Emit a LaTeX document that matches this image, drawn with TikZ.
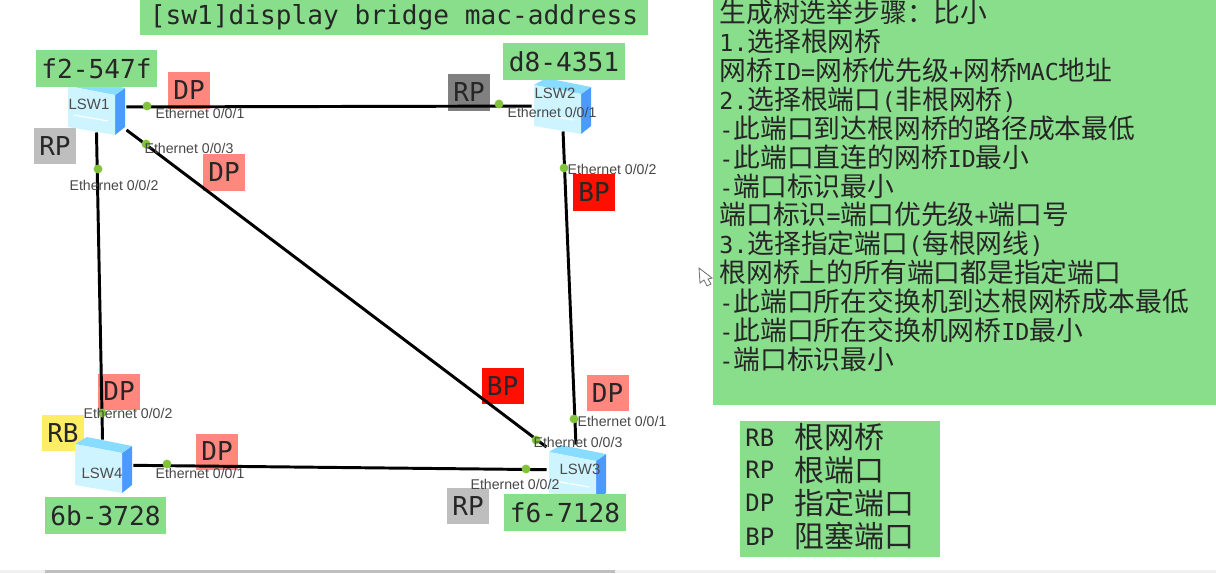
\documentclass[tikz,border=0pt]{standalone}
\usepackage{fontspec}
\setmainfont{Liberation Sans}
\setmonofont{DejaVu Sans Mono}
\newfontfamily\cjk{Noto Sans CJK SC}
\newcommand{\zh}[1]{{\cjk\fontsize{19.05}{20.55}\selectfont #1}}
\usetikzlibrary{positioning}
\definecolor{panelgreen}{RGB}{137,222,139}
\definecolor{dpred}{RGB}{255,135,125}
\definecolor{bpred}{RGB}{255,15,0}
\definecolor{rpgray}{RGB}{190,190,190}
\definecolor{rpdark}{RGB}{128,128,128}
\definecolor{rbyellow}{RGB}{255,238,100}
\definecolor{dotgreen}{RGB}{130,195,60}
\definecolor{swside}{RGB}{75,155,255}
\definecolor{swtop}{RGB}{135,220,255}
\definecolor{swfront}{RGB}{205,244,255}
\begin{document}
\begin{tikzpicture}
[x=0.025cm, y=-0.025cm, line width=2.1pt,
tag/.style={rectangle, inner sep=0pt, minimum width=1.05cm, minimum height=0.9cm, text=black!85, font=\ttfamily\fontsize{18.5}{20}\selectfont},
mac/.style={rectangle, fill=panelgreen, inner sep=0pt, minimum width=3.03cm, minimum height=0.925cm, text=black!85, font=\ttfamily\fontsize{18.6}{20}\selectfont},
switch/.style={rectangle, inner sep=0pt, minimum width=1.45cm, minimum height=1.2cm},
swname/.style={inner sep=0pt, text=black!70, font=\fontsize{10.6}{12}\selectfont},
port/.style={circle, fill=dotgreen, inner sep=0pt, minimum size=0.22cm},
eth/.style={inner sep=0pt, text=black!72, font=\fontsize{10.05}{12}\selectfont},
legendkey/.style={inner sep=0pt, anchor=west, text=black!85, font=\ttfamily\fontsize{17}{20}\selectfont},
legendval/.style={inner sep=0pt, anchor=west, text=black!85, font=\cjk\fontsize{21.3}{24}\selectfont},
swicon/.pic={
  \fill[swside] (19,-12) -- (29,-19) -- (29,20) -- (19,28) -- cycle;
  \fill[swtop] (-28,-21) -- (-16,-28) -- (29,-19) -- (19,-12) -- cycle;
  \fill[swfront] (-28,-21) -- (19,-12) -- (19,28) -- (-28,20) -- cycle;
  \draw[white, line width=0.8pt] (-22,8) -- (12,14);
}]

\useasboundingbox (0,0) rectangle (1216,573);

\fill[panelgreen] (713,0) rectangle (1216,405);
\fill[panelgreen] (740,421) rectangle (940,557);
\fill[black!6] (0,570) rectangle (1216,573);
\fill[black!25] (45,570) rectangle (615,573);

\node[tag, fill=dpred] (t1) at (189,90.5) {DP};
\node[tag, fill=rpgray] (t2) at (55,146) {RP};
\node[tag, fill=dpred] (t3) at (224,172.5) {DP};
\node[tag, fill=rpdark] (t4) at (469,92.5) {RP};
\node[tag, fill=bpred] (t5) at (594,192.5) {BP};
\node[tag, fill=dpred] (t6) at (119,391.5) {DP};
\node[tag, fill=rbyellow] (t7) at (63,433) {RB};
\node[tag, fill=dpred] (t8) at (217,451.5) {DP};
\node[tag, fill=bpred] (t9) at (502.5,386) {BP};
\node[tag, fill=dpred] (t10) at (607.5,393) {DP};
\node[tag, fill=rpgray] (t11) at (468,506) {RP};

\node[switch] (lsw1) at (96,107) {};
\node[switch] (lsw2) at (562,106) {};
\node[switch] (lsw3) at (577,470) {};
\node[switch] (lsw4) at (103,465) {};

\draw (lsw1) -- (lsw2);
\draw (lsw1) -- (lsw4);
\draw (lsw1) -- (lsw3);
\draw (lsw2) -- (lsw3);
\draw (lsw4) -- (lsw3);

\pic at (96,107) {swicon};
\pic at (562,106) {swicon};
\pic at (577,473) {swicon};
\pic at (103,465) {swicon};

\node[swname] (n1) at (89,104) {LSW1};
\node[swname] (n2) at (555,93) {LSW2};
\node[swname] (n3) at (580,469) {LSW3};
\node[swname] (n4) at (102,473) {LSW4};

\node[mac, minimum width=12.7cm, minimum height=0.875cm] (title) at (394,17.5) {[sw1]display bridge mac-address};
\node[mac] (m1) at (96.5,68.5) {f2-547f};
\node[mac] (m2) at (564,61.5) {d8-4351};
\node[mac] (m3) at (565,512.5) {f6-7128};
\node[mac] (m4) at (105.5,515.5) {6b-3728};

\node[port] (p1) at (147,106) {};
\node[port] (p2) at (146,144) {};
\node[port] (p3) at (98,169) {};
\node[port] (p4) at (499,104) {};
\node[port] (p5) at (564,168) {};
\node[port] (p6) at (102,413) {};
\node[port] (p7) at (167,464) {};
\node[port] (p8) at (526,469) {};
\node[port] (p9) at (574,419) {};
\node[port] (p10) at (536,440) {};

\node[eth] (e1) at (200,113) {Ethernet 0/0/1};
\node[eth] (e2) at (189,148) {Ethernet 0/0/3};
\node[eth] (e3) at (114,185) {Ethernet 0/0/2};
\node[eth] (e4) at (552,112) {Ethernet 0/0/1};
\node[eth] (e5) at (612,169) {Ethernet 0/0/2};
\node[eth] (e6) at (128,413) {Ethernet 0/0/2};
\node[eth] (e7) at (200,473) {Ethernet 0/0/1};
\node[eth] (e8) at (622,421) {Ethernet 0/0/1};
\node[eth] (e9) at (578,442) {Ethernet 0/0/3};
\node[eth] (e10) at (515,484) {Ethernet 0/0/2};

\node[inner sep=0pt, anchor=north west, align=left, text=black!85, font=\ttfamily\fontsize{16.6}{20.55}\selectfont] (steps) at (718,-1.5) {%
\zh{生成树选举步骤：比小}\\
1.\zh{选择根网桥}\\
\zh{网桥}ID=\zh{网桥优先级}+\zh{网桥}MAC\zh{地址}\\
2.\zh{选择根端口}(\zh{非根网桥})\\
-\zh{此端口到达根网桥的路径成本最低}\\
-\zh{此端口直连的网桥}ID\zh{最小}\\
-\zh{端口标识最小}\\
\zh{端口标识}=\zh{端口优先级}+\zh{端口号}\\
3.\zh{选择指定端口}(\zh{每根网线})\\
\zh{根网桥上的所有端口都是指定端口}\\
-\zh{此端口所在交换机到达根网桥成本最低}\\
-\zh{此端口所在交换机网桥}ID\zh{最小}\\
-\zh{端口标识最小}};

\node[legendkey] (k1) at (744,438) {RB};
\node[legendkey] (k2) at (744,470) {RP};
\node[legendkey] (k3) at (744,503) {DP};
\node[legendkey] (k4) at (744,537) {BP};
\node[legendval] (v1) at (793,437) {根网桥};
\node[legendval] (v2) at (793,470) {根端口};
\node[legendval] (v3) at (793,503) {指定端口};
\node[legendval] (v4) at (793,536) {阻塞端口};

\draw[black!55, fill=white, line width=0.6pt] (699,268) -- (700,283) -- (704,280) -- (707,286) -- (711,284) -- (708,279) -- (712,278) -- cycle;

\end{tikzpicture}
\end{document}
